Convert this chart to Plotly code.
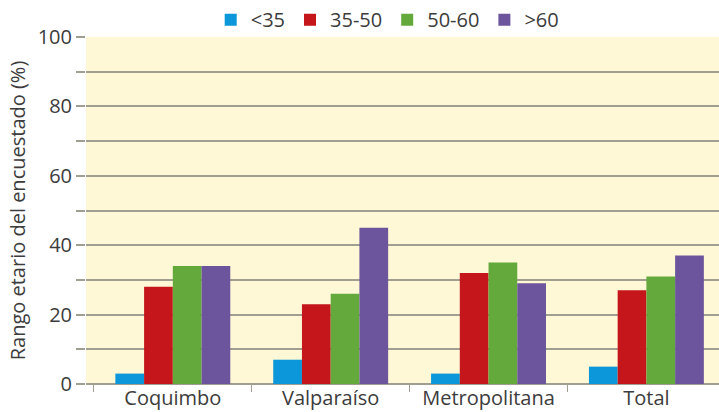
import plotly.graph_objects as go

# Survey respondents' age range by region (%)
regions = ["Coquimbo", "Valparaíso", "Metropolitana", "Total"]
age_groups = ["<35", "35-50", "50-60", ">60"]
under_35 = [3, 7, 3, 5]
from_35_to_50 = [28, 23, 32, 27]
from_50_to_60 = [34, 26, 35, 31]
over_60 = [34, 45, 29, 37]
y_ticks = [0, 10, 20, 30, 40, 50, 60, 70, 80, 90, 100]
y_tick_text = ["0", "", "20", "", "40", "", "60", "", "80", "", "100"]

series = [under_35, from_35_to_50, from_50_to_60, over_60]
colors = ["#0b97d9", "#c5161c", "#63a93b", "#6c559c"]

FONT = "Open Sans"
TEXT = "#3c3c3c"
GRID = "#a09e90"

fig = go.Figure()
for name, vals, col in zip(age_groups, series, colors):
    fig.add_trace(go.Bar(
        x=regions, y=vals, name=name,
        marker=dict(color=col, line=dict(width=0)),
    ))

fig.update_layout(
    width=719, height=412,
    margin=dict(l=86, r=0, t=37, b=28),
    paper_bgcolor="white",
    plot_bgcolor="#fef8d6",
    barmode="group",
    bargap=0.272,
    bargroupgap=0,
    font=dict(family=FONT, size=20, color=TEXT),
    showlegend=True,
    legend=dict(
        orientation="h",
        x=0.197, xanchor="left",
        y=1.05, yanchor="middle",
        bgcolor="rgba(0,0,0,0)",
        font=dict(family=FONT, size=20, color=TEXT),
        itemclick=False,
        tracegroupgap=0,
    ),
    xaxis=dict(
        type="category",
        range=[-0.55, 3.46],
        showgrid=False,
        showline=False,
        ticks="outside",
        tickson="boundaries",
        ticklen=7,
        tickwidth=1,
        tickcolor=GRID,
        tickfont=dict(family=FONT, size=20, color=TEXT),
        fixedrange=True,
    ),
    yaxis=dict(
        range=[0, 100],
        tickmode="array",
        tickvals=y_ticks,
        ticktext=y_tick_text,
        showgrid=True,
        gridcolor=GRID,
        gridwidth=2,
        zeroline=True,
        zerolinecolor=GRID,
        zerolinewidth=2,
        showline=False,
        ticks="outside",
        ticklen=9,
        tickwidth=2,
        tickcolor=GRID,
        tickfont=dict(family=FONT, size=20, color=TEXT),
        title=dict(text="Rango etario del encuestado (%)",
                   font=dict(family=FONT, size=20, color=TEXT),
                   standoff=6),
        automargin=False,
        fixedrange=True,
    ),
)

fig.write_html("out.html")
